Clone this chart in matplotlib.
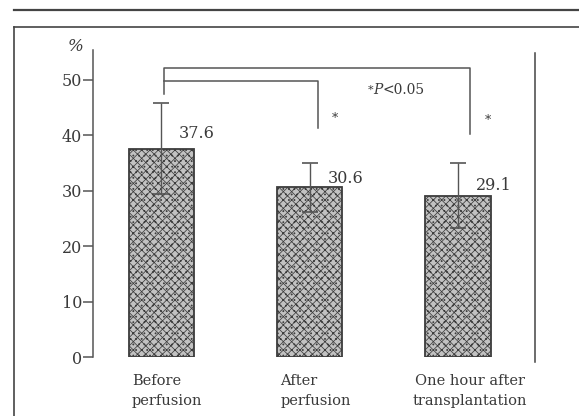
import matplotlib
matplotlib.use("Agg")
import matplotlib.pyplot as plt
from matplotlib.lines import Line2D

# group labels and measured values (%)
groups = ["Before\nperfusion", "After\nperfusion", "One hour after\ntransplantation"]
means = [37.6, 30.6, 29.1]
sd = [8.2, 4.4, 5.9]
yticks = [0, 10, 20, 30, 40, 50]
sig_note = "*P<0.05"

ink = "#3a3a3a"
plt.rcParams["font.family"] = ["DejaVu Serif"]
plt.rcParams["hatch.color"] = "#383838"
plt.rcParams["hatch.linewidth"] = 0.55

W, H = 579, 416
fig = plt.figure(figsize=(W / 100, H / 100), dpi=100)

# axes placed in pixel terms: y-axis at x=93, right end at 535, zero at y=357, top at y=50
x0, x1, y0, y1 = 93, 535, 357, 50
ax = fig.add_axes([x0 / W, 1 - y0 / H, (x1 - x0) / W, (y0 - y1) / H])
ax.set_xlim(-0.46, 2.52)
ax.set_ylim(0, 55.4)

xs = list(range(len(groups)))
ax.bar(xs, means, width=0.44, color="#c2c2c2", edgecolor="#3c3c3c",
       linewidth=1.3, hatch="xxxx...", zorder=2)
ax.errorbar(xs, means, yerr=sd, fmt="none", ecolor="#555555", elinewidth=1.0,
            capsize=6, capthick=1.2, zorder=3)

# value labels above each bar
label_dy = [2.7, 1.6, 1.8]
for x, m, dy in zip(xs, means, label_dy):
    ax.text(x + 0.12, m + dy, f"{m:.1f}", fontsize=11.5, color=ink,
            ha="left", va="center")

# category labels under the bars
label_dx = [0.04, 0.04, 0.08]
for x, g, dx in zip(xs, groups, label_dx):
    ax.text(x + dx, -3.0, g, fontsize=10.5, color=ink, ha="center", va="top",
            multialignment="left" if x < 2 else "center", linespacing=1.55)

# significance brackets
bl = 0.02
ax.plot([bl, bl, 2.08, 2.08], [47.5, 52.2, 52.2, 40.3], color="#555555", lw=1.1)
ax.plot([bl, 1.06, 1.06], [49.8, 49.8, 41.4], color="#555555", lw=1.1)
ax.text(1.17, 43.0, "*", fontsize=9, color=ink, ha="center", va="center")
ax.text(2.2, 42.6, "*", fontsize=9, color=ink, ha="center", va="center")
ax.text(1.43, 48.2, sig_note[0], fontsize=8, color=ink, ha="right", va="center")
ax.text(1.43, 48.2, sig_note[1:2], fontsize=10, color=ink, ha="left",
        va="center", style="italic")
ax.text(1.495, 48.2, sig_note[2:], fontsize=10, color=ink, ha="left", va="center")

for s in ["top", "right", "bottom"]:
    ax.spines[s].set_visible(False)
ax.spines["left"].set_color("#555555")
ax.spines["left"].set_linewidth(1.1)
ax.set_xticks([])
ax.set_yticks(yticks)
ax.tick_params(axis="y", direction="out", length=7, width=1.1, color="#555555",
               labelsize=11.5, labelcolor=ink, pad=1)
ax.text(-0.04, 1.01, "%", transform=ax.transAxes, fontsize=12, color=ink,
        ha="center", va="center", style="italic")

# page frame lines
def fline(xa, ya, xb, yb, lw=1.3):
    fig.add_artist(Line2D([xa / W, xb / W], [1 - ya / H, 1 - yb / H],
                          color="#444444", lw=lw))

fline(14, 10, W, 10, 1.6)
fline(14, 27, W, 27, 1.2)
fline(14, 27, 14, H, 1.2)
fline(535, 53, 535, 362, 1.1)

fig.savefig("out.png", dpi=100, facecolor="white")
